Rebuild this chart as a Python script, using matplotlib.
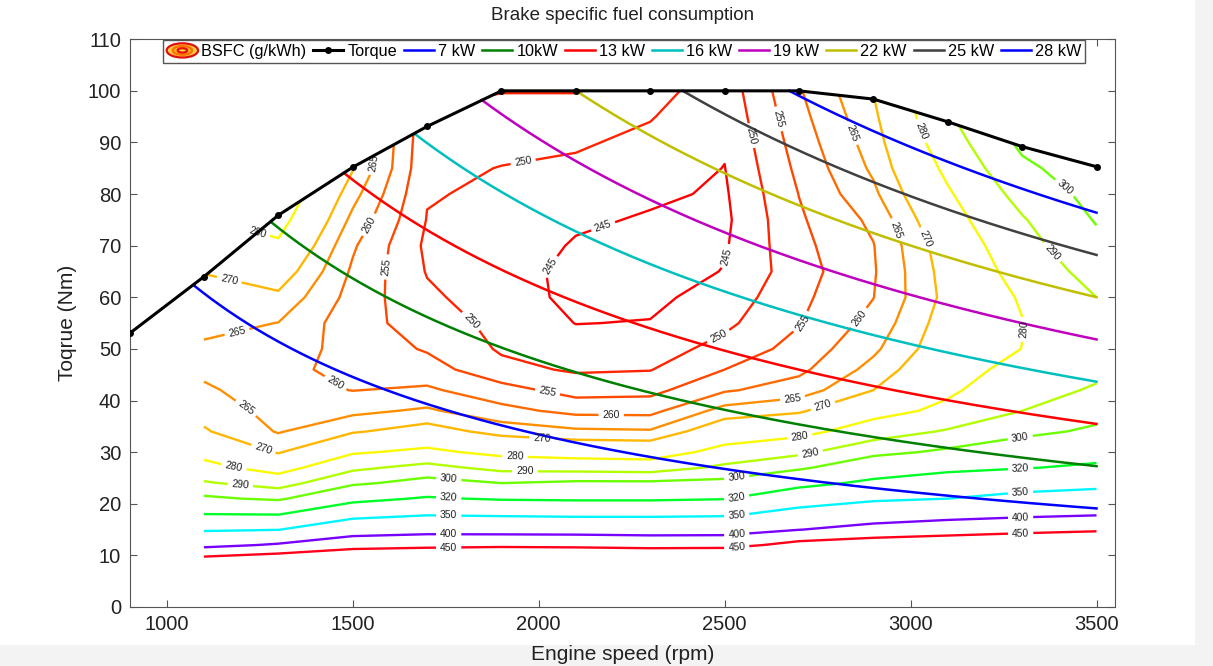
import numpy as np
import matplotlib
matplotlib.use("Agg")
import matplotlib.pyplot as plt
from matplotlib.patches import Ellipse, Rectangle
from matplotlib.legend_handler import HandlerBase

plt.rcParams["font.family"] = ["Liberation Sans", "DejaVu Sans"]

# full load torque curve
curve_rpm = [900, 1100, 1300, 1500, 1700, 1900, 2100, 2300, 2500, 2700, 2900, 3100, 3300, 3500]
curve_torque = [53, 64, 75.9, 85.2, 93.1, 100, 100, 100, 100, 100, 98.4, 94, 89.2, 85.3]

# bsfc map: columns = map_rpm, rows = map_torque (rows above full load repeat the full load value)
map_rpm = curve_rpm[1:]
map_torque = [6, 9, 12, 15, 18, 21, 24, 27, 30, 34, 38, 42, 46, 50, 55, 60, 65, 70, 75, 80, 85, 90, 95, 100]
bsfc = [
    [560, 580, 600, 620, 640, 650, 650, 650, 640, 620, 600, 590, 580],
    [471, 487, 508, 522, 534, 535, 528, 530, 554, 550, 542, 539, 535],
    [388, 405, 430, 435, 438, 435, 430, 432, 467, 480, 485, 489, 490],
    [346, 349, 378, 385, 383, 383, 382, 382, 399, 416, 428, 438, 445],
    [320, 319, 338, 347, 345, 343, 343, 345, 361, 375, 383, 390, 396],
    [302, 298, 314, 322, 318, 317, 317, 319, 335, 345, 350, 359, 365],
    [291, 286, 298, 304, 300, 302, 302, 303, 314, 324, 332, 337, 341],
    [283, 276, 288, 293, 287, 286, 285, 292, 298, 309, 315, 319, 323],
    [277, 269.5, 279, 282, 277.5, 276, 275.5, 283, 288, 297, 302, 308, 313],
    [270.6, 264.6, 269.4, 272.7, 268, 266, 265.6, 274.7, 277, 285, 291, 297, 302],
    [268.1, 263.1, 263.8, 265.8, 261.5, 258.6, 258.5, 267, 269.2, 276.6, 282.2, 290, 296],
    [266, 261.6, 259.9, 260.8, 257, 253, 253.5, 259.4, 262.5, 270, 278.4, 286.5, 291],
    [263.6, 260.9, 259, 257.2, 251.4, 249.4, 249.8, 255, 258.8, 266.7, 276.2, 283, 288],
    [264.1, 262.7, 258.1, 254.5, 249.4, 247.3, 247.7, 251.7, 256.8, 264, 274, 280.1, 285.6],
    [266.6, 264.9, 257, 252.7, 248.4, 244.9, 245.2, 248.9, 254.7, 261.7, 272.9, 279.7, 287.2],
    [268.5, 268.8, 258.1, 250.9, 247.4, 243.7, 243.9, 247, 253.8, 259.9, 271.7, 280.9, 290],
    [269.5, 273.6, 259.2, 249.7, 247.4, 243.4, 242.7, 245.2, 252.8, 259.5, 272.4, 283.6, 293.7],
    [269.5, 278.7, 260.7, 249, 248, 244.5, 243.4, 244.5, 253.6, 259.8, 273.5, 286.4, 297.4],
    [269.5, 283.2, 263.6, 249.8, 248.7, 245.8, 244.5, 244, 254.3, 261.1, 276.2, 289.2, 300.7],
    [269.5, 284, 266.8, 250.3, 249.3, 247.5, 245.8, 244.4, 255.1, 263.9, 278.9, 293.3, 303.3],
    [269.5, 284, 270.4, 250.8, 249.9, 249.1, 247.3, 244.9, 256.2, 265.9, 282, 297.9, 305.8],
    [269.5, 284, 270.5, 251.2, 250.9, 250.6, 248.8, 245.5, 257.3, 267.3, 285.3, 301.5, 306],
    [269.5, 284, 270.5, 251.5, 252, 252, 250.3, 246.3, 258.4, 268.7, 288, 301.5, 306],
    [269.5, 284, 270.5, 251.5, 249.8, 249.8, 252, 247, 259.5, 269.7, 288, 301.5, 306],
]
bsfc_levels = [245, 250, 255, 260, 265, 270, 280, 290, 300, 320, 350, 400, 450]

power_kw = [7, 10, 13, 16, 19, 22, 25, 28]
power_labels = ["7 kW", "10kW", "13 kW", "16 kW", "19 kW", "22 kW", "25 kW", "28 kW"]
power_colors = ["#0000ff", "#008000", "#ff0000", "#00bfbf", "#bf00bf", "#bfbf00", "#404040", "#0000ff"]

# where the contour values get written (rpm, Nm)
label_spots = [
    (2174, 73.6), (2030, 66), (2500, 68),
    (1960, 85.5), (1807, 54.5), (2490, 51.5), (2551, 91),
    (1578, 66), (2022, 41), (2712, 55), (2614, 94),
    (1440, 41.8), (1545, 74), (2195, 36.8), (2682, 41), (2813, 91), (2880, 55),
    (1193, 36.5), (1193, 52), (2762, 39.5), (2960, 73), (1560, 86),
    (1170, 64), (1256, 29.8), (2009, 32.2), (3031, 71),
    (1179, 26.5), (1230, 72.5), (1936, 28.8), (2702, 33), (3022, 92), (3291, 54),
    (1197, 23), (1963, 25.8), (2731, 29.6), (3377, 68.5),
    (1758, 24.4), (2533, 24.6), (3296, 32.3), (3394, 79.5),
    (1758, 21.1), (2533, 20.8), (3296, 26.6),
    (1758, 17.5), (2533, 17.3), (3296, 21.9),
    (1758, 13.9), (2533, 13.7), (3296, 17.1),
    (1758, 11.2), (2533, 11.1), (3296, 14.4),
]


class BsfcIcon:
    pass


class BsfcIconHandler(HandlerBase):
    def create_artists(self, legend, orig_handle, xdescent, ydescent, width, height, fontsize, trans):
        cx = 0.5 * width - xdescent
        cy = 0.5 * height - ydescent
        rings = [(1.0, "#ffcf3f", "#e01010"), (0.62, "#ffb020", "#ff7000"), (0.3, "#ffe040", "#e01010")]
        arts = []
        for s, fc, ec in rings:
            e = Ellipse((cx, cy), width * 1.05 * s, height * 1.25 * s, facecolor=fc, edgecolor=ec,
                        linewidth=1.6, transform=trans)
            arts.append(e)
        return arts


fig = plt.figure(figsize=(12.13, 6.66), dpi=100)
fig.patch.set_facecolor("#f3f3f3")
fig.add_artist(Rectangle((0, 0.032), 0.985, 0.968, transform=fig.transFigure,
                         facecolor="white", edgecolor="none", zorder=-10))
ax = fig.add_axes([0.1068, 0.0886, 0.8125, 0.8525])

ax.set_xlim(900, 3550)
ax.set_ylim(0, 110)

tmax = np.array(curve_torque[1:])
X = np.tile(np.array(map_rpm, dtype=float), (len(map_torque), 1))
Y = np.minimum.outer(np.array(map_torque, dtype=float), tmax)
Z = np.array(bsfc)

cs = ax.contour(X, Y, Z, levels=bsfc_levels, cmap="hsv", vmin=245, vmax=450, linewidths=1.7)
ax.clabel(cs, fmt="%d", fontsize=7.5, inline=True, inline_spacing=4, colors="#202020",
          manual=label_spots)

# constant power lines below the full load curve
n = np.linspace(900, 3500, 1200)
limit = np.interp(n, curve_rpm, curve_torque)
power_handles = []
for p, lab, col in zip(power_kw, power_labels, power_colors):
    t = p * 1000.0 / (2 * np.pi * n / 60.0)
    t = np.where(t <= limit + 0.05, t, np.nan)
    h, = ax.plot(n, t, color=col, linewidth=1.8, label=lab)
    power_handles.append(h)

torque_line, = ax.plot(curve_rpm, curve_torque, color="black", marker=".", markersize=8,
                       linewidth=2.2, label="Torque", zorder=5)

ax.set_xticks([1000, 1500, 2000, 2500, 3000, 3500])
ax.set_yticks(np.arange(0, 111, 10))
ax.tick_params(direction="in", top=True, right=True, labelsize=14.5, length=5,
               color="#555555", labelcolor="#222222", pad=6)
for sp in ax.spines.values():
    sp.set_color("#555555")

ax.set_title("Brake specific fuel consumption", fontsize=13.5, color="#222222", pad=14)
ax.set_xlabel("Engine speed (rpm)", fontsize=15, color="#222222", labelpad=8)
ax.set_ylabel("Toqrue (Nm)", fontsize=15, color="#222222", labelpad=8)

handles = [BsfcIcon(), torque_line] + power_handles
labels = ["BSFC (g/kWh)", "Torque"] + power_labels
leg = ax.legend(handles, labels, handler_map={BsfcIcon: BsfcIconHandler()}, ncol=10,
                loc="upper center", bbox_to_anchor=(0.502, 1.0), borderaxespad=0.05,
                fontsize=11.7, handlelength=1.84, handletextpad=0.25, columnspacing=0.43,
                borderpad=0.25, fancybox=False, framealpha=1, edgecolor="#555555")
leg.get_frame().set_linewidth(1.0)

fig.savefig("out.png", dpi=100)
